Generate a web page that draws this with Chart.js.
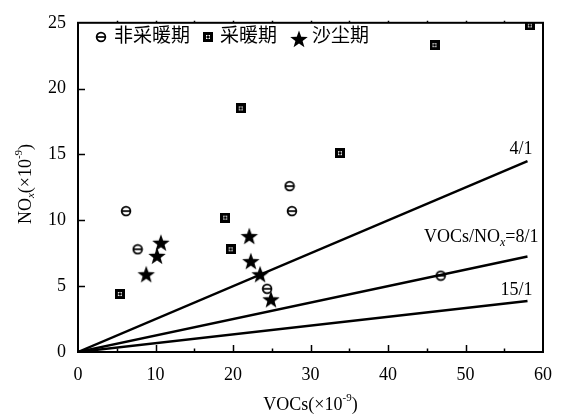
<!DOCTYPE html>
<html>
<head>
<meta charset="utf-8">
<script src="https://cdn.jsdelivr.net/npm/chart.js@4.4.1/dist/chart.umd.min.js"></script>
<style>
  html, body { margin: 0; padding: 0; background: #fff; }
  #wrap { width: 564px; height: 416px; }
</style>
</head>
<body>
<div id="wrap"><canvas id="myChart" width="564" height="416"></canvas></div>
<script>
// data
const nonHeatX = [6.2, 7.7, 27.3, 27.6, 24.4, 46.8];
const nonHeatY = [10.7, 7.8, 12.6, 10.7, 4.8, 5.8];
const heatX = [5.4, 19.0, 19.7, 21.0, 33.8, 46.0, 58.3];
const heatY = [4.4, 10.2, 7.8, 18.5, 15.1, 23.3, 24.8];
const dustX = [10.7, 10.2, 8.8, 22.1, 22.3, 23.5, 24.9];
const dustY = [8.3, 7.3, 5.9, 8.8, 6.9, 5.9, 4.0];
const ratioNames = ['4/1', '8/1', '15/1'];
const ratioEndX = 58;
const ratioEndY = [14.5, 7.25, 3.87];
const legendNames = ['非采暖期', '采暖期', '沙尘期'];
const xTicks = [0, 10, 20, 30, 40, 50, 60];
const yTicks = [0, 5, 10, 15, 20, 25];

const SERIF = '"Liberation Serif", "Times New Roman", "Noto Sans CJK SC", serif';

function pts(xs, ys) { return xs.map((x, i) => ({ x: x, y: ys[i] })); }

// custom marker shapes
function makeCircleLine() {
  const c = document.createElement('canvas');
  c.width = 12; c.height = 12;
  const g = c.getContext('2d');
  g.strokeStyle = '#000'; g.lineWidth = 1.7;
  g.beginPath(); g.arc(6, 6, 4.4, 0, Math.PI * 2); g.stroke();
  g.beginPath(); g.moveTo(1.6, 6); g.lineTo(10.4, 6); g.stroke();
  return c;
}
function makeDotSquare() {
  const c = document.createElement('canvas');
  c.width = 10; c.height = 10;
  const g = c.getContext('2d');
  g.fillStyle = '#000'; g.fillRect(0, 0, 10, 10);
  g.fillStyle = '#fff';
  g.fillRect(3, 3, 1, 1); g.fillRect(6, 3, 1, 1);
  g.fillRect(3, 6, 1, 1); g.fillRect(6, 6, 1, 1);
  g.fillStyle = 'rgba(255,255,255,0.5)';
  g.fillRect(4, 3, 2, 1); g.fillRect(4, 6, 2, 1);
  g.fillRect(3, 4, 1, 2); g.fillRect(6, 4, 1, 2);
  return c;
}
function makeStar() {
  const c = document.createElement('canvas');
  c.width = 20; c.height = 20;
  const g = c.getContext('2d');
  g.fillStyle = '#000';
  g.beginPath();
  for (let i = 0; i < 10; i++) {
    const r = i % 2 === 0 ? 9.2 : 3.8;
    const a = -Math.PI / 2 + i * Math.PI / 5;
    const px = 10 + r * Math.cos(a), py = 10.8 + r * Math.sin(a);
    if (i === 0) g.moveTo(px, py); else g.lineTo(px, py);
  }
  g.closePath(); g.fill();
  return c;
}
const imgCircle = makeCircleLine();
const imgSquare = makeDotSquare();
const imgStar = makeStar();

const lineSets = ratioEndY.map((ey, i) => ({
  type: 'line',
  label: ratioNames[i],
  data: [{ x: 0, y: 0 }, { x: ratioEndX, y: ey }],
  borderColor: '#000',
  borderWidth: 2.4,
  pointRadius: 0,
  fill: false
}));

// inward ticks, frame, legend, line labels, axis titles
const decor = {
  id: 'decor',
  afterDraw(chart) {
    const ctx = chart.ctx;
    const xs = chart.scales.x, ys = chart.scales.y;
    const a = chart.chartArea;
    ctx.save();
    ctx.strokeStyle = '#000';
    ctx.lineWidth = 1.5;
    ctx.beginPath();
    for (let v = 5; v < 60; v += 5) {
      const px = Math.round(xs.getPixelForValue(v)) + 0.5;
      const len = v % 10 === 0 ? 7 : 3.5;
      ctx.moveTo(px, a.bottom); ctx.lineTo(px, a.bottom - len);
      ctx.moveTo(px, a.top); ctx.lineTo(px, a.top - 2);
    }
    for (let v = 5; v < 25; v += 5) {
      const py = Math.round(ys.getPixelForValue(v)) + 0.5;
      ctx.moveTo(a.left, py); ctx.lineTo(a.left + 7, py);
    }
    ctx.stroke();
    ctx.lineWidth = 2;
    ctx.strokeRect(a.left, a.top, a.right - a.left, a.bottom - a.top);

    // legend inside plot
    ctx.fillStyle = '#000';
    ctx.textBaseline = 'middle';
    ctx.textAlign = 'left';
    ctx.font = '19px ' + SERIF;
    const ly = 37;
    ctx.drawImage(imgCircle, 95, ly - 6);
    ctx.fillText(legendNames[0], 114, ly);
    ctx.drawImage(imgSquare, 203, ly - 5);
    ctx.fillText(legendNames[1], 220, ly);
    ctx.drawImage(imgStar, 289, ly - 8);
    ctx.fillText(legendNames[2], 312, ly);

    // ratio line labels
    ctx.font = '18px ' + SERIF;
    ctx.textAlign = 'right';
    const ex = xs.getPixelForValue(ratioEndX) + 5;
    const lift = [12, 19, 11];
    ratioEndY.forEach((ey, i) => {
      const py = ys.getPixelForValue(ey) - lift[i];
      if (i === 1) {
        // VOCs/NO_x=8/1
        ctx.textAlign = 'left';
        const p1 = 'VOCs/NO', p2 = 'x', p3 = '=' + ratioNames[1];
        ctx.font = '18px ' + SERIF;
        const w1 = ctx.measureText(p1).width, w3 = ctx.measureText(p3).width;
        ctx.font = 'italic 12px ' + SERIF;
        const w2 = ctx.measureText(p2).width;
        const sx = ex + 6 - (w1 + w2 + w3);
        ctx.font = '18px ' + SERIF;
        ctx.fillText(p1, sx, py);
        ctx.font = 'italic 12px ' + SERIF;
        ctx.fillText(p2, sx + w1, py + 5);
        ctx.font = '18px ' + SERIF;
        ctx.fillText(p3, sx + w1 + w2, py);
        ctx.textAlign = 'right';
      } else {
        ctx.fillText(ratioNames[i], ex, py);
      }
    });

    // x axis title
    ctx.textAlign = 'left';
    ctx.font = '18px ' + SERIF;
    const tx1 = 'VOCs(×10', tx2 = '-9', tx3 = ')';
    const w1 = ctx.measureText(tx1).width;
    ctx.font = '11px ' + SERIF;
    const w2 = ctx.measureText(tx2).width;
    ctx.font = '18px ' + SERIF;
    const w3 = ctx.measureText(tx3).width;
    let sx = (a.left + a.right) / 2 - (w1 + w2 + w3) / 2;
    const ty = 405;
    ctx.fillText(tx1, sx, ty);
    ctx.font = '11px ' + SERIF;
    ctx.fillText(tx2, sx + w1, ty - 7);
    ctx.font = '18px ' + SERIF;
    ctx.fillText(tx3, sx + w1 + w2, ty);

    // y axis title (rotated)
    ctx.save();
    ctx.translate(26, 184);
    ctx.rotate(-Math.PI / 2);
    const y1 = 'NO', y2 = 'x', y3 = '(×10', y4 = '-9', y5 = ')';
    ctx.font = '18px ' + SERIF;
    const m1 = ctx.measureText(y1).width, m3 = ctx.measureText(y3).width, m5 = ctx.measureText(y5).width;
    ctx.font = 'italic 11px ' + SERIF;
    const m2 = ctx.measureText(y2).width;
    ctx.font = '11px ' + SERIF;
    const m4 = ctx.measureText(y4).width;
    let p = -(m1 + m2 + m3 + m4 + m5) / 2;
    ctx.font = '18px ' + SERIF; ctx.fillText(y1, p, 0); p += m1;
    ctx.font = 'italic 11px ' + SERIF; ctx.fillText(y2, p, 5); p += m2;
    ctx.font = '18px ' + SERIF; ctx.fillText(y3, p, 0); p += m3;
    ctx.font = '11px ' + SERIF; ctx.fillText(y4, p, -7); p += m4;
    ctx.font = '18px ' + SERIF; ctx.fillText(y5, p, 0);
    ctx.restore();

    ctx.restore();
  }
};

const ctx = document.getElementById('myChart').getContext('2d');
new Chart(ctx, {
  type: 'scatter',
  data: {
    datasets: [
      { label: legendNames[0], data: pts(nonHeatX, nonHeatY), pointStyle: imgCircle, pointRadius: 6 },
      { label: legendNames[1], data: pts(heatX, heatY), pointStyle: imgSquare, pointRadius: 5 },
      { label: legendNames[2], data: pts(dustX, dustY), pointStyle: imgStar, pointRadius: 9 }
    ].concat(lineSets)
  },
  options: {
    responsive: false,
    animation: false,
    layout: { padding: { top: 18, right: 20, left: 0, bottom: 0 } },
    plugins: { legend: { display: false }, tooltip: { enabled: false } },
    scales: {
      x: {
        type: 'linear', min: 0, max: 60,
        afterBuildTicks: s => { s.ticks = xTicks.map(v => ({ value: v })); },
        afterFit: s => { s.height = 64; },
        grid: { display: false, drawTicks: false },
        border: { display: false },
        ticks: { color: '#000', padding: 12, maxRotation: 0, font: { family: SERIF, size: 18 } }
      },
      y: {
        type: 'linear', min: 0, max: 25,
        afterBuildTicks: s => { s.ticks = yTicks.map(v => ({ value: v })); },
        afterFit: s => { s.width = 78; },
        grid: { display: false, drawTicks: false },
        border: { display: false },
        ticks: { color: '#000', padding: 12, font: { family: SERIF, size: 18 } }
      }
    }
  },
  plugins: [decor]
});
</script>
</body>
</html>
